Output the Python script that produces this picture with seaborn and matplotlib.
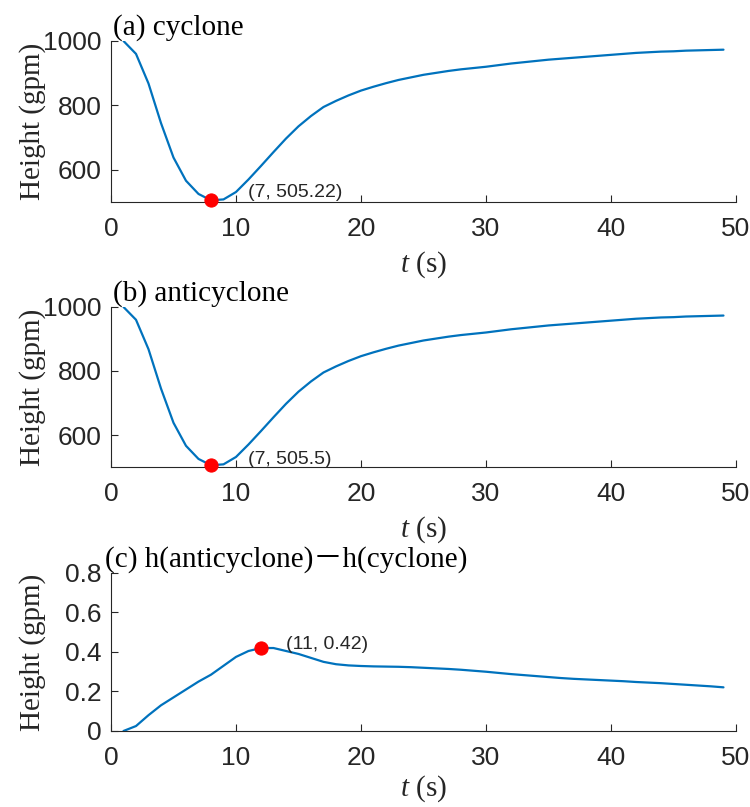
import matplotlib
matplotlib.use('Agg')
import matplotlib.pyplot as plt
import pandas as pd
import seaborn as sns

# time steps (s)
t = list(range(1, 50))

# geopotential height of the cyclone run (gpm)
cyclone = [1000, 960, 868, 745, 638, 566, 525, 505.22, 508, 531,
           570, 612, 655, 697, 735, 767, 795, 814, 831, 846,
           858, 869, 879, 887, 895, 901, 907, 912, 916, 920,
           925, 930, 934, 938, 942, 945, 948, 951, 954, 957,
           960, 963, 965, 967, 968, 970, 971, 972, 973]

# geopotential height of the anticyclone run (gpm)
anticyclone = [1000.00, 960.03, 868.08, 745.13, 638.17, 566.21, 525.25, 505.50, 508.33, 531.38,
               570.41, 612.42, 655.42, 697.41, 735.39, 767.37, 795.35, 814.34, 831.33, 846.33,
               858.33, 869.33, 879.33, 887.32, 895.32, 901.32, 907.31, 912.31, 916.31, 920.30,
               925.29, 930.29, 934.28, 938.28, 942.27, 945.27, 948.26, 951.26, 954.26, 957.26,
               960.25, 963.25, 965.25, 967.24, 968.24, 970.23, 971.23, 972.23, 973.22]

# difference anticyclone - cyclone (gpm)
diff = [0.0, 0.025, 0.08, 0.13, 0.17, 0.21, 0.25, 0.285, 0.33, 0.375,
        0.405, 0.42, 0.42, 0.405, 0.39, 0.37, 0.35, 0.338, 0.332, 0.329,
        0.327, 0.326, 0.325, 0.323, 0.32, 0.317, 0.314, 0.31, 0.305, 0.30,
        0.294, 0.288, 0.283, 0.278, 0.273, 0.268, 0.264, 0.261, 0.258, 0.255,
        0.252, 0.248, 0.245, 0.242, 0.238, 0.234, 0.23, 0.226, 0.221]

# highlighted points and their labels
mark_t = [8, 8, 12]
mark_v = [505.22, 505.5, 0.42]
mark_text = ['(7, 505.22)', '(7, 505.5)', '(11, 0.42)']
text_pos = [(11, 530), (11, 525), (14, 0.44)]

titles = ['(a) cyclone', '(b) anticyclone', '(c) h(anticyclone)\uff0dh(cyclone)']
ylims = [(500, 1000), (500, 1000), (0, 0.8)]
yticks = [[600, 800, 1000], [600, 800, 1000], [0, 0.2, 0.4, 0.6, 0.8]]
series = [cyclone, anticyclone, diff]

sns.set_theme(style='ticks')
plt.rcParams['font.family'] = ['Liberation Sans', 'DejaVu Sans']
plt.rcParams['mathtext.fontset'] = 'custom'
plt.rcParams['mathtext.rm'] = 'Liberation Serif'
plt.rcParams['mathtext.it'] = 'Liberation Serif:italic'

dark = '#262626'
serif = ['Liberation Serif', 'Noto Sans CJK SC', 'DejaVu Serif']

fig = plt.figure(figsize=(7.5, 8.07), dpi=100)
boxes = [[0.148, 0.7497, 0.8333, 0.1995],
         [0.148, 0.4213, 0.8333, 0.1983],
         [0.148, 0.0942, 0.8333, 0.1958]]

for i in range(3):
    ax = fig.add_axes(boxes[i])
    df = pd.DataFrame({'t': t, 'h': series[i]})
    sns.lineplot(data=df, x='t', y='h', ax=ax, color='#0072BD', linewidth=1.6)
    sns.scatterplot(x=[mark_t[i]], y=[mark_v[i]], ax=ax, color='red', s=90,
                    edgecolor='red', zorder=5, clip_on=False)
    ax.text(text_pos[i][0], text_pos[i][1], mark_text[i], fontsize=14,
            color=dark, ha='left', va='center')

    ax.set_xlim(0, 50)
    ax.set_ylim(*ylims[i])
    ax.set_xticks([0, 10, 20, 30, 40, 50])
    ax.set_yticks(yticks[i])
    ax.set_yticklabels([f'{v:g}' for v in yticks[i]])
    ax.tick_params(direction='in', length=5, width=0.8, colors=dark,
                   labelsize=19, labelcolor=dark)
    ax.tick_params(axis='x', pad=11)
    ax.tick_params(axis='y', pad=7)
    for s in ['top', 'right']:
        ax.spines[s].set_visible(False)
    for s in ['left', 'bottom']:
        ax.spines[s].set_color(dark)
        ax.spines[s].set_linewidth(0.8)

    # last panel: keep the x label inside the figure
    pad = 6 if i < 2 else 2
    ax.set_xlabel('$t$ (s)', fontsize=21, color=dark, family=serif, labelpad=pad)
    ax.set_ylabel('Height (gpm)', fontsize=21, color=dark, family=serif)
    ax.yaxis.set_label_coords(-0.104, 0.5)
    x0 = 0.003 if i < 2 else -0.01
    ax.text(x0, 1.04, titles[i], transform=ax.transAxes, fontsize=21,
            color='black', family=serif, ha='left', va='baseline')

fig.savefig('out.png', dpi=100)
